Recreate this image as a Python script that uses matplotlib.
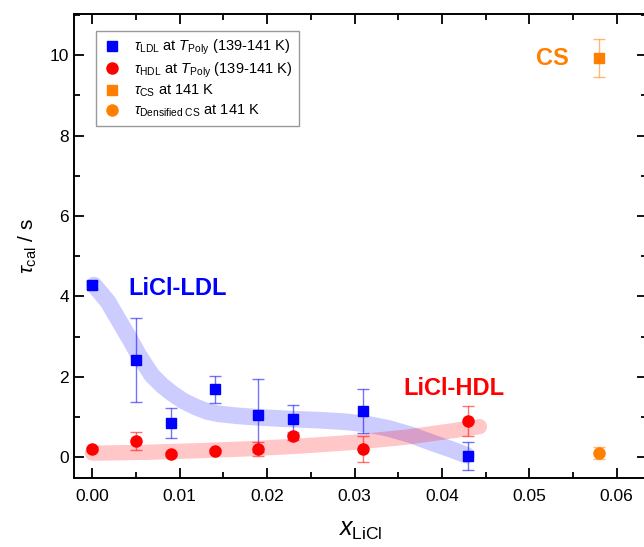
import numpy as np
import matplotlib
matplotlib.use('Agg')
import matplotlib.pyplot as plt
from matplotlib.ticker import MultipleLocator

plt.rcParams['font.family'] = ['Liberation Sans', 'DejaVu Sans']
plt.rcParams['mathtext.fontset'] = 'custom'
plt.rcParams['mathtext.rm'] = 'Liberation Sans'
plt.rcParams['mathtext.it'] = 'Liberation Sans:italic'
plt.rcParams['mathtext.bf'] = 'Liberation Sans:bold'

# LDL relaxation times at T_Poly
x_ldl = [0.000, 0.005, 0.009, 0.014, 0.019, 0.023, 0.031, 0.043]
tau_ldl = [4.28, 2.42, 0.85, 1.69, 1.04, 0.94, 1.14, 0.03]
err_ldl = [0.10, 1.05, 0.38, 0.33, 0.91, 0.37, 0.55, 0.36]

# HDL relaxation times at T_Poly
x_hdl = [0.000, 0.005, 0.009, 0.014, 0.019, 0.023, 0.031, 0.043]
tau_hdl = [0.20, 0.40, 0.07, 0.15, 0.20, 0.52, 0.20, 0.90]
err_hdl = [0.05, 0.22, 0.05, 0.05, 0.17, 0.10, 0.32, 0.37]

# cubic snow (CS) and densified CS at 141 K
x_cs = [0.058]
tau_cs = [9.93]
err_cs = [0.47]
tau_dcs = [0.10]
err_dcs = [0.15]

# hand-drawn guides to the eye
guide_ldl_x = [0.0002, 0.0018, 0.0030, 0.0042, 0.0053, 0.0068, 0.0080, 0.0091,
               0.0104, 0.0118, 0.0131, 0.0144, 0.0165, 0.0190, 0.0225, 0.0260,
               0.0290, 0.0315, 0.0340, 0.0365, 0.0390, 0.0410, 0.0428]
guide_ldl_y = [4.28, 3.86, 3.41, 2.97, 2.54, 2.04, 1.78, 1.59,
               1.40, 1.25, 1.14, 1.08, 1.03, 0.99, 0.95, 0.92,
               0.88, 0.82, 0.71, 0.55, 0.35, 0.20, 0.05]
guide_hdl_x = [0.000, 0.006, 0.012, 0.018, 0.024, 0.030, 0.036, 0.041, 0.0443]
guide_hdl_y = [0.10, 0.12, 0.16, 0.21, 0.28, 0.37, 0.50, 0.65, 0.76]

blue = '#0000ff'
red = '#ff0000'
orange = '#ff8000'

fig = plt.figure(figsize=(6.44, 5.47), dpi=100)
ax = fig.add_axes([0.115, 0.126, 0.89, 0.848])

ax.plot(guide_ldl_x, guide_ldl_y, color=blue, alpha=0.2, lw=12,
        solid_capstyle='round', solid_joinstyle='round', zorder=1)
ax.plot(guide_hdl_x, guide_hdl_y, color=red, alpha=0.22, lw=11,
        solid_capstyle='round', solid_joinstyle='round', zorder=1)

ekw = dict(fmt='none', elinewidth=1, capsize=4, capthick=1, alpha=0.55, zorder=2)
ax.errorbar(x_ldl, tau_ldl, yerr=err_ldl, ecolor=blue, **ekw)
ax.errorbar(x_hdl, tau_hdl, yerr=err_hdl, ecolor=red, **ekw)
ax.errorbar(x_cs, tau_cs, yerr=err_cs, ecolor=orange, **ekw)
ax.errorbar(x_cs, tau_dcs, yerr=err_dcs, ecolor=orange, **ekw)

ax.plot(x_ldl, tau_ldl, 's', color=blue, ms=6.5, zorder=3,
        label=r'$\tau_{\rm LDL}$ at $T_{\rm Poly}$ (139-141 K)')
ax.plot(x_hdl, tau_hdl, 'o', color=red, ms=8, zorder=3,
        label=r'$\tau_{\rm HDL}$ at $T_{\rm Poly}$ (139-141 K)')
ax.plot(x_cs, tau_cs, 's', color=orange, ms=6.5, zorder=3,
        label=r'$\tau_{\rm CS}$ at 141 K')
ax.plot(x_cs, tau_dcs, 'o', color=orange, ms=8, zorder=3,
        label=r'$\tau_{\rm Densified\ CS}$ at 141 K')

ax.text(0.0041, 4.2, 'LiCl-LDL', color=blue, fontsize=17,
        fontweight='bold', va='center')
ax.text(0.0356, 1.72, 'LiCl-HDL', color=red, fontsize=17,
        fontweight='bold', va='center')
ax.text(0.0508, 9.93, 'CS', color=orange, fontsize=17,
        fontweight='bold', va='center')

ax.set_xlim(-0.0021, 0.0635)
ax.set_ylim(-0.52, 11.02)
ax.xaxis.set_major_locator(MultipleLocator(0.01))
ax.xaxis.set_minor_locator(MultipleLocator(0.005))
ax.yaxis.set_major_locator(MultipleLocator(2))
ax.yaxis.set_minor_locator(MultipleLocator(1))
ax.xaxis.set_major_formatter(matplotlib.ticker.FormatStrFormatter('%.2f'))

ax.tick_params(which='both', direction='in', top=True, right=True,
               labelsize=12.5, width=1.3)
ax.tick_params(which='major', length=7)
ax.tick_params(which='minor', length=4)
ax.tick_params(axis='x', pad=8)
for s in ax.spines.values():
    s.set_linewidth(1.4)

ax.set_xlabel(r'$x_{\rm LiCl}$', fontsize=18, labelpad=10)
ax.set_ylabel(r'$\tau_{\rm cal}$ / s', fontsize=15, labelpad=8)

leg = ax.legend(loc='upper left', fontsize=10.5, frameon=True, fancybox=False,
                edgecolor='#808080', borderpad=0.5, handlelength=1.2,
                labelspacing=0.22, handletextpad=0.9,
                bbox_to_anchor=(0.025, 0.98))
leg.get_frame().set_linewidth(1.0)

fig.savefig('out.png', dpi=100)
